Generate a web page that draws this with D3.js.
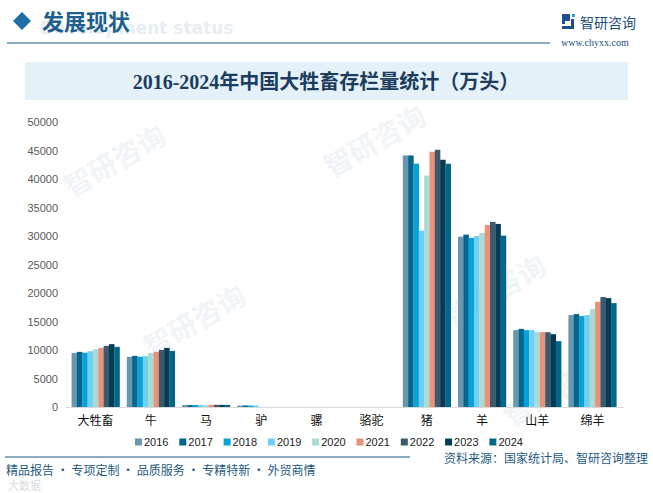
<!DOCTYPE html>
<html>
<head>
<meta charset="utf-8">
<script src="https://cdn.jsdelivr.net/npm/d3@7"></script>
<style>
  body { margin: 0; background: #fff; }
  svg { display: block; }
</style>
</head>
<body>
<div class="myViz"></div>
<script>
// data (unit: 万头)
var categories = ["大牲畜", "牛", "马", "驴", "骡", "骆驼", "猪", "羊", "山羊", "绵羊"];
var years = ["2016", "2017", "2018", "2019", "2020", "2021", "2022", "2023", "2024"];

var daShengChu = [9490, 9670, 9520, 9790, 10140, 10370, 10720, 11020, 10550];
var niu        = [8790, 8970, 8810, 8910, 9440, 9670, 10020, 10370, 9840];
var ma         = [350, 343, 347, 367, 367, 372, 380, 375, 370];
var lv         = [259, 268, 253, 260, null, null, null, null, null];
var luo        = [null, null, null, null, null, null, null, null, null];
var luoTuo     = [null, null, null, null, null, null, null, null, null];
var zhu        = [44130, 44130, 42700, 30940, 40610, 44780, 45130, 43370, 42670];
var yang       = [29890, 30240, 29660, 30010, 30540, 31940, 32470, 32120, 30070];
var shanYang   = [13480, 13710, 13480, 13480, 13130, 13130, 13130, 12780, 11550];
var mianYang   = [16120, 16300, 15950, 16120, 17180, 18460, 19290, 19110, 18230];

var yTicks = [0, 5000, 10000, 15000, 20000, 25000, 30000, 35000, 40000, 45000, 50000];

var seriesByCat = [daShengChu, niu, ma, lv, luo, luoTuo, zhu, yang, shanYang, mianYang];
var colors = ["#6a97ad", "#02668f", "#08a2d8", "#6fd0f6", "#a8dbd3",
              "#e8927c", "#3d5a6b", "#053c55", "#03678a"];

var W = 653, H = 493;
var margin = {top: 122, right: 33, bottom: 86, left: 68},
    width = W - margin.left - margin.right,
    height = H - margin.top - margin.bottom;

var svg = d3.select(".myViz")
  .append("svg")
  .attr("width", W)
  .attr("height", H);

var cjk = "'Noto Sans CJK SC', 'Noto Sans', sans-serif";

// faint watermarks
var marks = [[120, 170], [380, 150], [200, 330], [500, 300], [560, 400]];
marks.forEach(function(m) {
  svg.append("text")
    .attr("transform", "translate(" + m[0] + "," + m[1] + ") rotate(-30)")
    .attr("text-anchor", "middle")
    .style("font-family", cjk)
    .style("font-weight", "bold")
    .style("font-size", "28px")
    .style("fill", "#f1f4f7")
    .text("智研咨询");
});

// header
svg.append("text")
  .attr("x", 40).attr("y", 34)
  .style("font-family", "'DejaVu Sans', sans-serif")
  .style("font-weight", "bold")
  .style("font-size", "17px")
  .style("fill", "#e6edf3")
  .text("Development status");

svg.append("path")
  .attr("d", "M13,21 L22,12 L31,21 L22,30 Z")
  .style("fill", "#1e6fa5");

svg.append("text")
  .attr("x", 42).attr("y", 30)
  .style("font-family", cjk)
  .style("font-weight", "bold")
  .style("font-size", "22px")
  .style("fill", "#1e5f8e")
  .text("发展现状");

svg.append("line")
  .attr("x1", 7).attr("x2", 550)
  .attr("y1", 43).attr("y2", 43)
  .style("stroke", "#1a5d84")
  .style("stroke-width", 1.2);

// logo
var logo = svg.append("g").attr("transform", "translate(562,14)");
logo.append("path").attr("d", "M0,0 H8 V7 H3 V10 H0 Z").style("fill", "#1e4e8c");
logo.append("path").attr("d", "M0,12 H9 V5 H12 V15 H0 Z").style("fill", "#1e4e8c");
logo.append("rect").attr("x", 10).attr("y", 0).attr("width", 3).attr("height", 3).style("fill", "#2fa0dc");

svg.append("text")
  .attr("x", 580).attr("y", 28)
  .style("font-family", cjk)
  .style("font-size", "14px")
  .style("fill", "#1e4e7c")
  .text("智研咨询");

svg.append("text")
  .attr("x", 561).attr("y", 46)
  .style("font-family", "'Liberation Serif', serif")
  .style("font-size", "10px")
  .style("fill", "#1e4e7c")
  .text("www.chyxx.com");

// title box
svg.append("rect")
  .attr("x", 25).attr("y", 62)
  .attr("width", 603).attr("height", 38)
  .style("fill", "#e4f1f9");

svg.append("text")
  .attr("x", 326).attr("y", 89)
  .attr("text-anchor", "middle")
  .style("font-family", "'Liberation Serif', 'Noto Sans CJK SC', serif")
  .style("font-weight", "bold")
  .style("font-size", "20px")
  .style("fill", "#1c3d5e")
  .text("2016-2024年中国大牲畜存栏量统计（万头）");

var chartGroup = svg.append("g")
  .attr("transform", `translate(${margin.left}, ${margin.top})`);

// scales
var x = d3.scaleBand()
  .domain(categories)
  .range([0, width])
  .paddingInner(0.13)
  .paddingOuter(0.065);

var xSub = d3.scaleBand()
  .domain(years)
  .range([0, x.bandwidth()]);

var y = d3.scaleLinear()
  .domain([0, 50000])
  .range([height, 0]);

// y axis
var yAxis = chartGroup.append("g")
  .call(d3.axisLeft(y).tickValues(yTicks).tickFormat(d3.format("d")).tickSize(0).tickPadding(10));
yAxis.select(".domain").remove();
yAxis.selectAll("text")
  .style("font-family", "'Liberation Sans', Arial, sans-serif")
  .style("font-size", "11px")
  .style("fill", "#595959");

// bars
categories.forEach(function(cat, ci) {
  var g = chartGroup.append("g")
    .attr("transform", "translate(" + x(cat) + ",0)");
  g.selectAll("rect")
    .data(seriesByCat[ci].map(function(v, i) { return {year: years[i], value: v, i: i}; })
      .filter(function(d) { return d.value != null; }))
    .enter()
    .append("rect")
      .attr("x", function(d) { return xSub(d.year); })
      .attr("y", function(d) { return y(d.value); })
      .attr("width", xSub.bandwidth() + 0.2)
      .attr("height", function(d) { return height - y(d.value); })
      .style("fill", function(d) { return colors[d.i]; });
});

// x axis
var xAxis = chartGroup.append("g")
  .attr("transform", "translate(0," + height + ")")
  .call(d3.axisBottom(x).tickSize(0).tickPadding(9));
xAxis.select(".domain")
  .attr("d", "M-2,0.5H" + (width + 4) + "")
  .style("stroke", "#d9d9d9");
xAxis.selectAll("text")
  .style("font-family", cjk)
  .style("font-size", "12px")
  .style("fill", "#111");

// legend
var legend = svg.append("g").attr("transform", "translate(135,442)");
years.forEach(function(yr, i) {
  var item = legend.append("g").attr("transform", "translate(" + (i * 44.3) + ",0)");
  item.append("rect")
    .attr("x", 0).attr("y", -3.5)
    .attr("width", 7).attr("height", 7)
    .style("fill", colors[i]);
  item.append("text")
    .attr("x", 9).attr("y", 4)
    .style("font-family", "'Liberation Sans', Arial, sans-serif")
    .style("font-size", "11px")
    .style("fill", "#222")
    .text(yr);
});

// footer
svg.append("line")
  .attr("x1", 5).attr("x2", 410)
  .attr("y1", 457).attr("y2", 457)
  .style("stroke", "#1a5d84")
  .style("stroke-width", 1);

svg.append("text")
  .attr("x", 648).attr("y", 463)
  .attr("text-anchor", "end")
  .style("font-family", cjk)
  .style("font-size", "12px")
  .style("fill", "#1e5a82")
  .text("资料来源：国家统计局、智研咨询整理");

svg.append("text")
  .attr("x", 6).attr("y", 475)
  .style("font-family", cjk)
  .style("font-size", "12px")
  .style("fill", "#1e5a82")
  .text("精品报告 · 专项定制 · 品质服务 · 专精特新 · 外贸商情");

svg.append("text")
  .attr("x", 8).attr("y", 490)
  .style("font-family", cjk)
  .style("font-size", "11px")
  .style("fill", "#d8dde2")
  .text("大数据");
</script>
</body>
</html>
